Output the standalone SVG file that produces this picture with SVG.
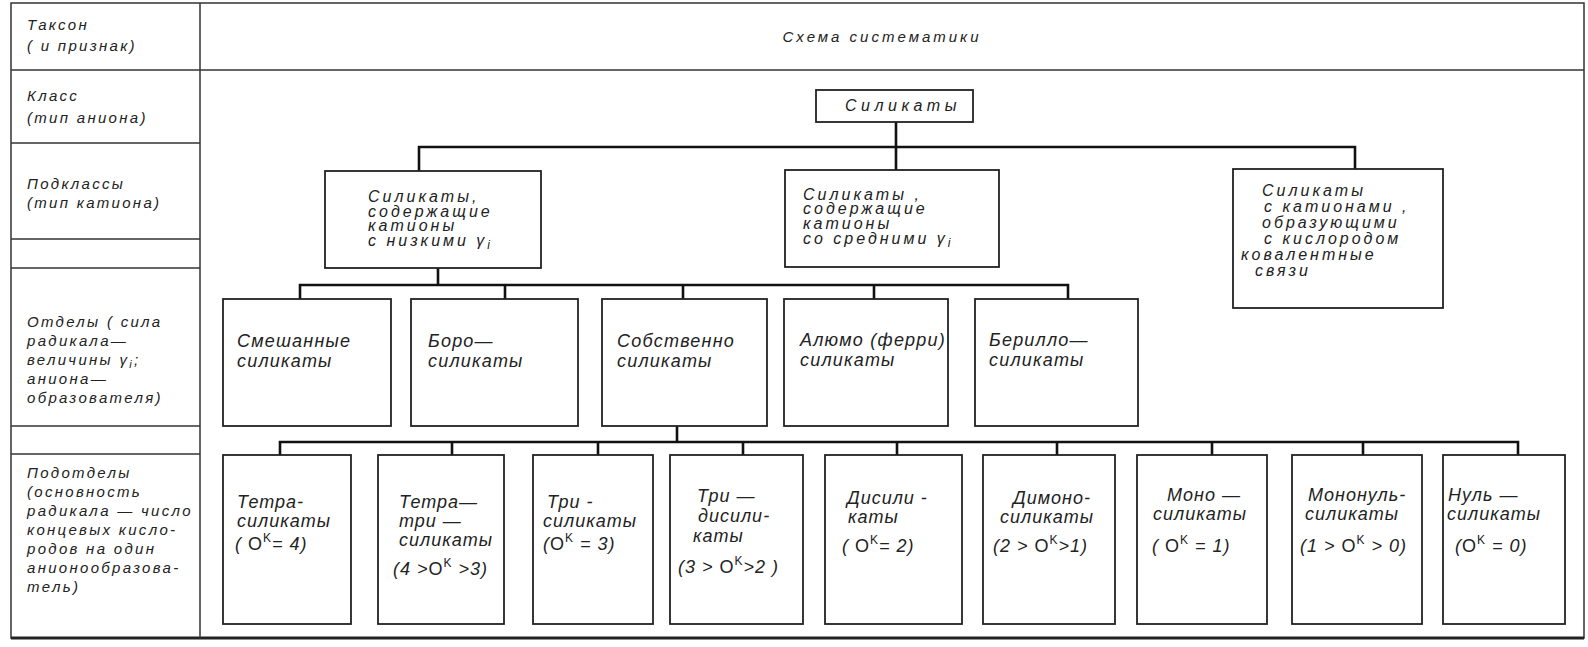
<svg xmlns="http://www.w3.org/2000/svg" width="1588" height="647" viewBox="0 0 1588 647">
<style>
text{font-family:"Liberation Sans","DejaVu Sans",sans-serif;font-style:italic;fill:#222;}
.lc{font-size:15px;letter-spacing:2.3px;}
.hd{font-size:15px;letter-spacing:3px;}
.t1{font-size:16px;letter-spacing:4.5px;}
.sb{font-size:16px;letter-spacing:3px;}
.md{font-size:18px;letter-spacing:1.2px;}
.bt{font-size:18px;letter-spacing:1px;}
.up{font-style:normal;}
.box{fill:#fff;stroke:#222;stroke-width:1.8;}
.frame{fill:none;stroke:#333;stroke-width:1.5;}
.conn{fill:none;stroke:#111;stroke-width:2.6;}
</style>
<rect width="1588" height="647" fill="#fff"/>
<g id="frame">
<rect class="frame" x="11" y="3" width="1573" height="635"/>
<line x1="11" y1="638" x2="1584" y2="638" stroke="#222" stroke-width="3"/>
<line class="frame" x1="200" y1="3" x2="200" y2="638"/>
<line class="frame" x1="11" y1="70" x2="1584" y2="70"/>
<line class="frame" x1="11" y1="143" x2="200" y2="143"/>
<line class="frame" x1="11" y1="239" x2="200" y2="239"/>
<line class="frame" x1="11" y1="268" x2="200" y2="268"/>
<line class="frame" x1="11" y1="426" x2="200" y2="426"/>
<line class="frame" x1="11" y1="454" x2="200" y2="454"/>
</g>
<g id="left-column">
<text class="lc" x="27" y="30">Таксон</text>
<text class="lc" x="27" y="51">( и признак)</text>
<text class="lc" x="27" y="101">Класс</text>
<text class="lc" x="27" y="123">(тип аниона)</text>
<text class="lc" x="27" y="189">Подклассы</text>
<text class="lc" x="27" y="208">(тип катиона)</text>
<text class="lc" x="27" y="327">Отделы ( сила</text>
<text class="lc" x="27" y="346">радикала—</text>
<text class="lc" x="27" y="365">величины γ<tspan font-size="11" dy="3">i</tspan><tspan dy="-3">;</tspan></text>
<text class="lc" x="27" y="384">аниона—</text>
<text class="lc" x="27" y="403">образователя)</text>
<text class="lc" x="27" y="478">Подотделы</text>
<text class="lc" x="27" y="497">(основность</text>
<text class="lc" x="27" y="516">радикала — число</text>
<text class="lc" x="27" y="535">концевых кисло-</text>
<text class="lc" x="27" y="554">родов на один</text>
<text class="lc" x="27" y="573">анионообразова-</text>
<text class="lc" x="27" y="592">тель)</text>
</g>
<g id="header">
<text class="hd" x="882" y="42" text-anchor="middle">Схема систематики</text>
</g>
<g id="connectors">
<path class="conn" d="M896 122V147M419 171V147H1355V169M896 147V170"/>
<path class="conn" d="M438 268V285M300 299V285H1068V299M505 285V299M683 285V299M874 285V299"/>
<path class="conn" d="M677 426V442M280 455V442H1518V455M452 442V455M598 442V455M743 442V455M897 442V455M1057 442V455M1212 442V455M1363 442V455"/>
</g>
<g id="n-silikaty">
<rect class="box" x="816" y="90" width="157" height="32"/>
<text class="t1" x="845" y="111">Силикаты</text>
</g>
<g id="n-low">
<rect class="box" x="325" y="171" width="216" height="97"/>
<text class="sb" x="368" y="202">Силикаты,</text>
<text class="sb" x="368" y="217">содержащие</text>
<text class="sb" x="368" y="231">катионы</text>
<text class="sb" x="368" y="246">с низкими γ<tspan font-size="12" dy="3">i</tspan></text>
</g>
<g id="n-mid">
<rect class="box" x="785" y="170" width="214" height="97"/>
<text class="sb" x="803" y="200">Силикаты ,</text>
<text class="sb" x="803" y="214">содержащие</text>
<text class="sb" x="803" y="229">катионы</text>
<text class="sb" x="803" y="244">со средними γ<tspan font-size="12" dy="3">i</tspan></text>
</g>
<g id="n-cov">
<rect class="box" x="1233" y="169" width="210" height="139"/>
<text class="sb" x="1262" y="196">Силикаты</text>
<text class="sb" x="1264" y="212">с катионами ,</text>
<text class="sb" x="1262" y="228">образующими</text>
<text class="sb" x="1264" y="244">с кислородом</text>
<text class="sb" x="1241" y="260">ковалентные</text>
<text class="sb" x="1255" y="276">связи</text>
</g>
<g id="n-mixed">
<rect class="box" x="223" y="299" width="168" height="127"/>
<text class="md" x="237" y="347">Смешанные</text>
<text class="md" x="237" y="367">силикаты</text>
</g>
<g id="n-boro">
<rect class="box" x="411" y="299" width="167" height="127"/>
<text class="md" x="428" y="347">Боро—</text>
<text class="md" x="428" y="367">силикаты</text>
</g>
<g id="n-proper">
<rect class="box" x="602" y="299" width="165" height="127"/>
<text class="md" x="617" y="347">Собственно</text>
<text class="md" x="617" y="367">силикаты</text>
</g>
<g id="n-alumo">
<rect class="box" x="784" y="299" width="164" height="127"/>
<text class="md" x="800" y="346" letter-spacing="0.3">Алюмо (ферри)</text>
<text class="md" x="800" y="366">силикаты</text>
</g>
<g id="n-beryl">
<rect class="box" x="975" y="299" width="163" height="127"/>
<text class="md" x="989" y="346">Берилло—</text>
<text class="md" x="989" y="366">силикаты</text>
</g>
<g id="b1">
<rect class="box" x="223" y="455" width="128" height="169"/>
<text class="bt" x="237" y="508">Тетра-</text>
<text class="bt" x="237" y="527">силикаты</text>
<text class="bt" x="235" y="550">( <tspan class="up">O</tspan><tspan class="up" font-size="12" dy="-8">K</tspan><tspan dy="8">= 4)</tspan></text>
</g>
<g id="b2">
<rect class="box" x="378" y="455" width="126" height="169"/>
<text class="bt" x="399" y="508">Тетра—</text>
<text class="bt" x="399" y="527">три —</text>
<text class="bt" x="399" y="546">силикаты</text>
<text class="bt" x="393" y="575">(4 &gt;<tspan class="up">O</tspan><tspan class="up" font-size="12" dy="-8">K</tspan><tspan dy="8"> &gt;3)</tspan></text>
</g>
<g id="b3">
<rect class="box" x="533" y="455" width="120" height="169"/>
<text class="bt" x="547" y="508">Три -</text>
<text class="bt" x="543" y="527">силикаты</text>
<text class="bt" x="543" y="550">(<tspan class="up">O</tspan><tspan class="up" font-size="12" dy="-8">K</tspan><tspan dy="8"> = 3)</tspan></text>
</g>
<g id="b4">
<rect class="box" x="670" y="455" width="133" height="169"/>
<text class="bt" x="697" y="502">Три —</text>
<text class="bt" x="698" y="522">дисили-</text>
<text class="bt" x="693" y="542">каты</text>
<text class="bt" x="678" y="573">(3 &gt; <tspan class="up">O</tspan><tspan class="up" font-size="12" dy="-8">K</tspan><tspan dy="8">&gt;2 )</tspan></text>
</g>
<g id="b5">
<rect class="box" x="825" y="455" width="137" height="169"/>
<text class="bt" x="847" y="504">Дисили -</text>
<text class="bt" x="848" y="523">каты</text>
<text class="bt" x="842" y="552">( <tspan class="up">O</tspan><tspan class="up" font-size="12" dy="-8">K</tspan><tspan dy="8">= 2)</tspan></text>
</g>
<g id="b6">
<rect class="box" x="983" y="455" width="132" height="169"/>
<text class="bt" x="1013" y="504">Димоно-</text>
<text class="bt" x="1000" y="523">силикаты</text>
<text class="bt" x="993" y="552">(2 &gt; <tspan class="up">O</tspan><tspan class="up" font-size="12" dy="-8">K</tspan><tspan dy="8">&gt;1)</tspan></text>
</g>
<g id="b7">
<rect class="box" x="1137" y="455" width="130" height="169"/>
<text class="bt" x="1167" y="501">Моно —</text>
<text class="bt" x="1153" y="520">силикаты</text>
<text class="bt" x="1152" y="552">( <tspan class="up">O</tspan><tspan class="up" font-size="12" dy="-8">K</tspan><tspan dy="8"> = 1)</tspan></text>
</g>
<g id="b8">
<rect class="box" x="1292" y="455" width="130" height="169"/>
<text class="bt" x="1308" y="501">Мононуль-</text>
<text class="bt" x="1305" y="520">силикаты</text>
<text class="bt" x="1300" y="552">(1 &gt; <tspan class="up">O</tspan><tspan class="up" font-size="12" dy="-8">K</tspan><tspan dy="8"> &gt; 0)</tspan></text>
</g>
<g id="b9">
<rect class="box" x="1443" y="455" width="122" height="169"/>
<text class="bt" x="1448" y="501">Нуль —</text>
<text class="bt" x="1447" y="520">силикаты</text>
<text class="bt" x="1455" y="552">(<tspan class="up">O</tspan><tspan class="up" font-size="12" dy="-8">K</tspan><tspan dy="8"> = 0)</tspan></text>
</g>
</svg>
